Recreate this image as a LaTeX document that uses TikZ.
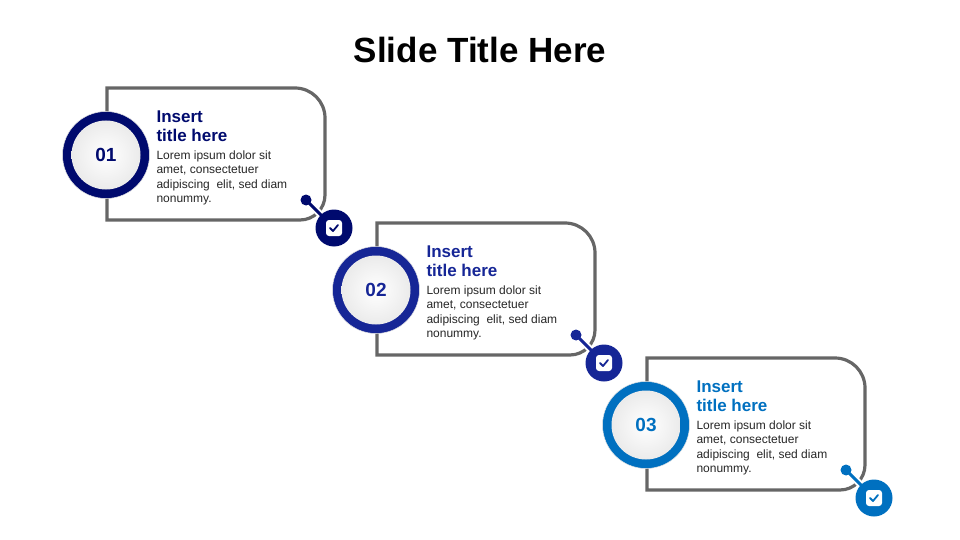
\documentclass[tikz,border=0pt]{standalone}
\usepackage{fontspec}
\setmainfont{Liberation Sans}
\begin{document}
\begin{tikzpicture}[x=1pt,y=-1pt,
  frame/.style={draw=black!60,line width=3.2pt},
  ttl/.style={anchor=north west,align=left,font=\fontsize{17}{19.5}\selectfont\bfseries},
  body/.style={anchor=north west,align=left,font=\fontsize{12}{14.5}\selectfont,text=black!85},
  num/.style={font=\fontsize{19}{22}\selectfont\bfseries}]
\useasboundingbox (0,0) rectangle (960,540);
\definecolor{cA}{RGB}{0,10,110}
\definecolor{cB}{RGB}{22,38,150}
\definecolor{cC}{RGB}{0,112,192}
\node[font=\fontsize{35}{40}\selectfont\bfseries] (title) at (480,50) {Slide Title Here};
\foreach \i/\c/\n in {0/cA/01,1/cB/02,2/cC/03}{
 \begin{scope}[shift={(270*\i,135*\i)}]
  \draw[frame] (107,112) -- (107,88) [rounded corners=30pt] -- (325,88) [rounded corners=25pt] -- (325,220) [rounded corners=0pt] -- (107,220) -- (107,198);
  \node[circle,minimum size=87,fill=\c,draw=black!10,line width=0.5pt] (ring\i) at (106,155) {};
  \node[circle,minimum size=69,inner color=white,outer color=black!8] (core\i) at (106,155) {};
  \node[num,text=\c] (n\i) at (106,155) {\n};
  \node[ttl,text=\c] (t\i) at (153,107) {Insert\\title here};
  \node[body] (b\i) at (153,147) {Lorem ipsum dolor sit\\amet, consectetuer\\adipiscing\ \ elit, sed diam\\nonummy.};
  \coordinate (d\i) at (306,200);
  \coordinate (k\i) at (334,228);
  \draw[white,line width=7pt] (d\i) -- (k\i);
  \draw[\c,line width=3pt] (d\i) -- (k\i);
  \fill[\c] (d\i) circle (5.5);
  \node[circle,fill=\c,minimum size=37,inner sep=0] (bg\i) at (k\i) {};
  \fill[white,rounded corners=3pt] (326,220) rectangle (342,236);
  \draw[\c,line width=1.8pt,line cap=round,line join=round] (330,228) -- (333,231) -- (338,225);
 \end{scope}}
\end{tikzpicture}
\end{document}
